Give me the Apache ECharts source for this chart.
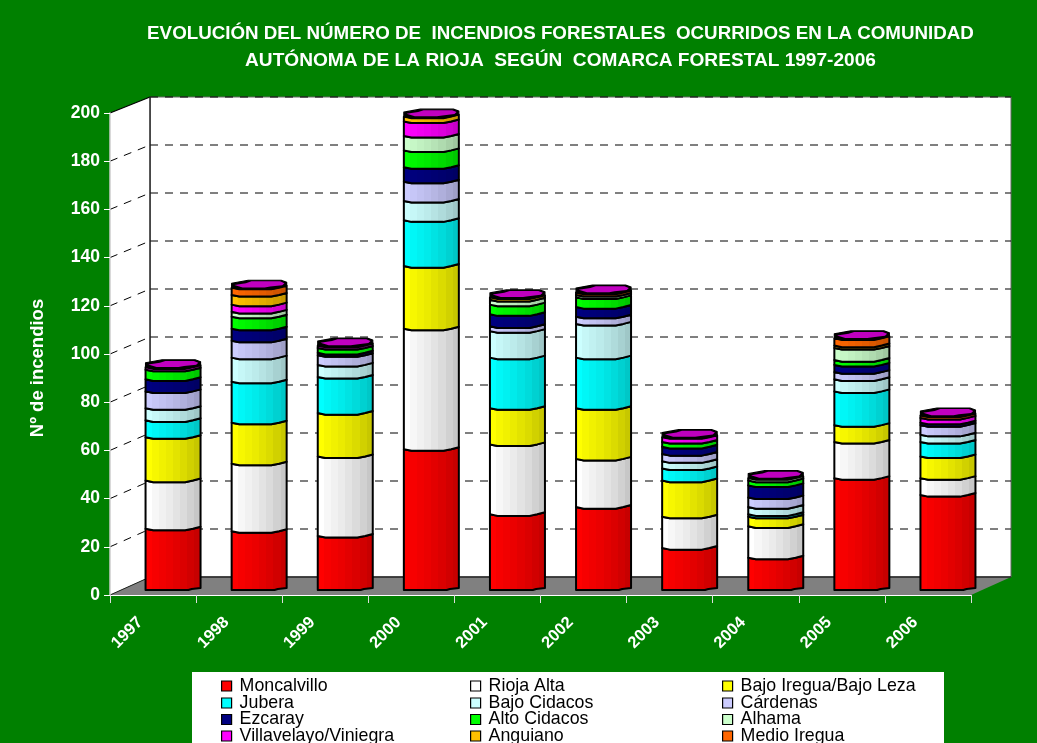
<!DOCTYPE html>
<html><head><meta charset="utf-8">
<style>html,body{margin:0;padding:0;background:#008000;overflow:hidden}#c{width:1037px;height:743px}</style>
<script src="https://cdn.jsdelivr.net/npm/echarts@6/dist/echarts.min.js"></script>
</head><body><div id="c"></div>
<script>
const years = ['1997','1998','1999','2000','2001','2002','2003','2004','2005','2006'];
const yTicks = [0,20,40,60,80,100,120,140,160,180,200];
const moncalvillo = [25,24,22,58,31,34,17,13,46,39];
const riojaAlta   = [20,28,33,50,29,20,13,13,15,7];
const bajoIregua  = [18,17,18,26,15,21,15,4,7,9];
const jubera      = [7,17,15,19,21,21,5,1,14,6];
const bajoCidacos = [5,10,5,8,11,14,3,3,5,3];
const cardenas    = [7,7,4,8,2,3,3,4,3,4];
const ezcaray     = [5,5,1,6,5,4,3,5,3,1];
const altoCidacos = [4,5,2,7,4,4,2,2,2,0];
const alhama      = [0,2,0,6,2,1,0,1,5,0];
const villavelayo = [1,3,1,6,0,0,2,0,0,2];
const anguiano    = [0,4,0,2,1,0,0,0,1,0];
const medioIregua = [0,3,0,0,0,1,0,0,3,1];
const seriesNames = ['Moncalvillo','Rioja Alta','Bajo Iregua/Bajo Leza','Jubera','Bajo Cidacos','Cárdenas','Ezcaray','Alto Cidacos','Alhama','Villavelayo/Viniegra','Anguiano','Medio Iregua'];
const seriesValues = [moncalvillo,riojaAlta,bajoIregua,jubera,bajoCidacos,cardenas,ezcaray,altoCidacos,alhama,villavelayo,anguiano,medioIregua];
const seriesColors = ['#ff0000','#ffffff','#ffff00','#00ffff','#ccffff','#ccccff','#000080','#00ff00','#ccffcc','#ff00ff','#ffc000','#ff6600'];
const titleLine1 = 'EVOLUCIÓN DEL NÚMERO DE  INCENDIOS FORESTALES  OCURRIDOS EN LA COMUNIDAD';
const titleLine2 = 'AUTÓNOMA DE LA RIOJA  SEGÚN  COMARCA FORESTAL 1997-2006';

const DX = 20, DY = -6, BAR_W = 55;      // bar placement inside the 3D box
const DEPTH_X = 40, DEPTH_Y = -18;       // depth of the box
const profile = [[0,0],[0.14,1.6],[0.72,1.6],[0.86,0],[1,-2]];
const baseProfile = [[0,1],[0.78,1],[0.84,0],[1,-1]];
const capRim = [[0,0],[0,-4.5],[0.1,-5.5],[0.3,-7.5],[0.9,-7.5],[1,-5.5],[1,-2],[0.86,0],[0.72,1.6],[0.14,1.6]];
const capTop = [[0.05,-2.8],[0.26,-4.6],[0.36,-6.4],[0.88,-6.4],[0.96,-4.6],[0.92,-2.6],[0.7,-1.2],[0.6,-0.3],[0.2,-0.3]];
const shades = [1,0.97,0.945,0.92,0.89,0.86,0.82,0.78];

function shadeColor(hex,f){
  const n=parseInt(hex.slice(1),16);
  return 'rgb('+[(n>>16)&255,(n>>8)&255,n&255].map(v=>Math.round(v*f)).join(',')+')';
}
function facetFill(hex){
  const stops=[];
  shades.forEach((s,i)=>{
    stops.push({offset:i/shades.length,color:shadeColor(hex,s)});
    stops.push({offset:(i+1)/shades.length,color:shadeColor(hex,s)});
  });
  return {type:'linear',x:0,y:0,x2:1,y2:0,colorStops:stops};
}
function frameItem(params,api){
  const g=params.coordSys, children=[];
  const L=g.x, R=g.x+g.width, y0=api.coord([0,0])[1], yT=api.coord([0,200])[1];
  const bL=L+DEPTH_X, bR=R+DEPTH_X, by0=y0+DEPTH_Y, byT=yT+DEPTH_Y+2;
  children.push({type:'polygon',shape:{points:[[bL,byT],[bR,byT],[bR,by0],[bL,by0]]},style:{fill:'#fff',stroke:'#666',lineWidth:1}});
  children.push({type:'polygon',shape:{points:[[L,y0],[bL,by0],[bL,byT],[L,yT]]},style:{fill:'#fff',stroke:null}});
  children.push({type:'polygon',shape:{points:[[L,y0],[R,y0],[bR,by0],[bL,by0]]},style:{fill:'#808080',stroke:null}});
  children.push({type:'line',shape:{x1:bL,y1:by0,x2:bR,y2:by0},style:{stroke:'#222',lineWidth:1.5}});
  children.push({type:'line',shape:{x1:L,y1:yT,x2:bL,y2:byT},style:{stroke:'#000',lineWidth:1.2}});
  children.push({type:'line',shape:{x1:L,y1:y0,x2:bL,y2:by0},style:{stroke:'#222',lineWidth:1}});
  yTicks.forEach(v=>{
    if(v===0) return;
    const yf=api.coord([0,v])[1];
    const yb=by0+(byT-by0)*v/200;
    const st={stroke:'#000',lineWidth:1,lineDash:[8,7],fill:null};
    children.push({type:'line',shape:{x1:bL,y1:yb,x2:bR,y2:yb},style:st});
    if(v<200) children.push({type:'line',shape:{x1:L,y1:yf,x2:bL,y2:yb},style:st});
  });
  children.push({type:'line',shape:{x1:bL,y1:byT,x2:bL,y2:by0},style:{stroke:'#222',lineWidth:1.5}});
  return {type:'group',children};
}
function segItem(hex){
  const fill=facetFill(hex);
  return function(params,api){
    const lo=api.value(1), hi=api.value(2);
    if(hi<=lo) return null;
    const c=api.value(0);
    const a=api.coord([c,lo]), b=api.coord([c,hi]);
    const x0=a[0]+DX-BAR_W/2, yl=a[1]+DY, yh=b[1]+DY;
    const lower=(lo===0?baseProfile:profile).map(p=>[x0+p[0]*BAR_W,yl+p[1]]);
    const upper=profile.map(p=>[x0+p[0]*BAR_W,yh+p[1]]).reverse();
    return {type:'polygon',shape:{points:lower.concat(upper)},
      style:{fill:fill,stroke:'#000',lineWidth:2,lineJoin:'round'}};
  };
}
function capItem(params,api){
  const c=api.value(0), t=api.coord([c,api.value(1)]);
  const x0=t[0]+DX-BAR_W/2, y=t[1]+DY;
  const pts=arr=>arr.map(p=>[x0+p[0]*BAR_W,y+p[1]]);
  return {type:'group',children:[
    {type:'polygon',shape:{points:pts(capRim)},style:{fill:'#000',stroke:'#000',lineWidth:1.2,lineJoin:'round'}},
    {type:'polygon',shape:{points:pts(capTop)},style:{fill:'#c000c0'}}
  ]};
}
const series=[{type:'custom',name:'frame',z:-1,silent:true,renderItem:frameItem,data:[[0]],
  encode:{x:0,y:[]},clip:false}];
const running=years.map(()=>0);
seriesNames.forEach((name,i)=>{
  const data=seriesValues[i].map((v,k)=>{const lo=running[k];running[k]+=v;return [k,lo,running[k]];});
  series.push({type:'custom',name,z:3+i,silent:true,clip:false,renderItem:segItem(seriesColors[i]),
    itemStyle:{color:seriesColors[i]},encode:{x:0,y:[1,2]},data});
});
series.push({type:'custom',name:'tapa',z:20,silent:true,clip:false,renderItem:capItem,
  encode:{x:0,y:1},data:running.map((t,k)=>[k,t])});

const legendLeft=[221,470,722], legendTop=[677,694,710.5,727];
const legends=seriesNames.map((n,i)=>({
  orient:'horizontal',left:legendLeft[i%3],top:legendTop[Math.floor(i/3)],padding:0,
  itemWidth:10,itemHeight:10,icon:'rect',selectedMode:false,data:[n],
  itemStyle:{borderColor:'#000',borderWidth:1.2},
  textStyle:{fontFamily:'Liberation Sans',fontSize:17.8,color:'#000',lineHeight:16.5,padding:[0,0,0,3]}
}));

const titleBase={left:555.5,textAlign:'center'};
const chart=echarts.init(document.getElementById('c'),null,{renderer:'canvas'});
chart.setOption({
  backgroundColor:'#008000',animation:false,
  title:[
    Object.assign({},titleBase,{text:titleLine1,top:15,textStyle:{color:'#fff',fontFamily:'Liberation Sans',fontWeight:'bold',fontSize:18.75,lineHeight:27}}),
    Object.assign({},titleBase,{text:titleLine2,top:42,textStyle:{color:'#fff',fontFamily:'Liberation Sans',fontWeight:'bold',fontSize:19.1,lineHeight:27}})
  ],
  graphic:[{type:'rect',z:-5,shape:{x:192,y:672,width:752,height:80},style:{fill:'#fff'}}],
  legend:legends,
  grid:{left:110,top:113,width:861,height:482},
  xAxis:{type:'category',data:years,boundaryGap:true,
    axisLine:{lineStyle:{color:'#fff',width:1}},
    axisTick:{show:true,length:8,lineStyle:{color:'#ddd',width:1},alignWithLabel:false},
    axisLabel:{rotate:45,margin:12,padding:[0,18,0,0],interval:0,color:'#fff',fontFamily:'Liberation Sans',fontWeight:'bold',fontSize:16.5}},
  yAxis:{type:'value',min:0,max:200,interval:20,
    axisLine:{show:true,lineStyle:{color:'#ccc',width:1.5}},
    axisTick:{show:true,length:6,lineStyle:{color:'#fff',width:1}},
    splitLine:{show:false},
    axisLabel:{margin:10,color:'#fff',fontFamily:'Liberation Sans',fontWeight:'bold',fontSize:17.5,padding:[3,0,0,0]},
    name:'Nº de incendios',nameLocation:'middle',nameGap:63,nameRotate:90,
    nameTextStyle:{color:'#fff',fontFamily:'Liberation Sans',fontWeight:'bold',fontSize:18.5,padding:[0,28,0,0]}},
  series
});
</script></body></html>
